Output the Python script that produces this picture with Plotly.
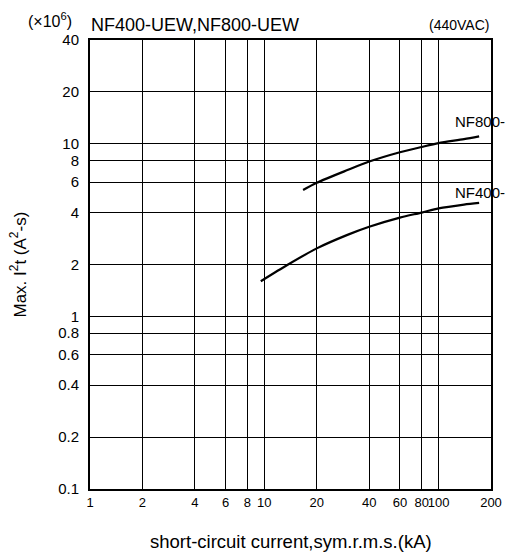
import plotly.graph_objects as go

# data
nf400_x = [9.55, 13.7, 20, 30, 40, 60, 80, 100, 140, 171]
nf400_y = [1.60, 2.0, 2.48, 2.97, 3.31, 3.74, 4.0, 4.23, 4.45, 4.55]
nf800_x = [16.7, 20, 30, 40, 60, 80, 100, 140, 171]
nf800_y = [5.4, 5.95, 7.05, 7.9, 8.95, 9.6, 10.1, 10.65, 11.05]

x_ticks = [1, 2, 4, 6, 8, 10, 20, 40, 60, 80, 100, 200]
x_tick_text = ["1", "2", "4", "6", "8", "10", "20", "40", "60", "80", "100", "200"]
y_ticks = [0.1, 0.2, 0.4, 0.6, 0.8, 1, 2, 4, 6, 8, 10, 20, 40]
y_tick_text = ["0.1", "0.2", "0.4", "0.6", "0.8", "1", "2", "4", "6", "8", "10", "20", "40"]

FONT = "Liberation Sans, Arial, sans-serif"

L, R, T, B = 90, 16, 40, 65
W, H = 507, 554
PW, PH = W - L - R, H - T - B


def px(xp):
    return (xp - L) / PW


def py(yp):
    return (H - B - yp) / PH


fig = go.Figure()
for xs, ys in ((nf800_x, nf800_y), (nf400_x, nf400_y)):
    fig.add_trace(go.Scatter(x=xs, y=ys, mode="lines",
                             line=dict(color="black", width=2.2, shape="spline", smoothing=0.8),
                             showlegend=False, hoverinfo="skip"))

fig.update_layout(
    width=W, height=H,
    margin=dict(l=L, r=R, t=T, b=B, autoexpand=False),
    paper_bgcolor="white", plot_bgcolor="white",
    font=dict(family=FONT, size=14, color="black"),
    xaxis=dict(type="log", range=[0, 2.30103], tickvals=x_ticks, ticktext=x_tick_text,
               showgrid=True, gridcolor="black", gridwidth=1,
               showline=True, linecolor="black", linewidth=2, mirror=True,
               ticks="", zeroline=False, tickangle=0, tickfont=dict(size=13),
               ticklabelstandoff=0),
    yaxis=dict(type="log", range=[-1, 1.60206], tickvals=y_ticks, ticktext=y_tick_text,
               showgrid=True, gridcolor="black", gridwidth=1,
               showline=True, linecolor="black", linewidth=2, mirror=True,
               ticks="", zeroline=False, tickfont=dict(size=15), ticklabelstandoff=6),
)

annots = [
    dict(x=px(89), y=py(25), xref="paper", yref="paper", xanchor="left", yanchor="middle",
         text="NF400-UEW,NF800-UEW", showarrow=False, font=dict(size=18)),
    dict(x=px(491), y=py(25), xref="paper", yref="paper", xanchor="right", yanchor="middle",
         text="(440VAC)", showarrow=False, font=dict(size=14)),
    dict(x=px(26), y=py(20), xref="paper", yref="paper", xanchor="left", yanchor="middle",
         text="(×10<sup>6</sup>)", showarrow=False, font=dict(size=16)),
    dict(x=px(507), y=py(121), xref="paper", yref="paper", xanchor="right", yanchor="middle",
         text="NF800-", showarrow=False, font=dict(size=15)),
    dict(x=px(507), y=py(192), xref="paper", yref="paper", xanchor="right", yanchor="middle",
         text="NF400-", showarrow=False, font=dict(size=15)),
    dict(x=0.5, y=py(541), xref="paper", yref="paper", xanchor="center", yanchor="middle",
         text="short-circuit current,sym.r.m.s.(kA)", showarrow=False, font=dict(size=18.5)),
    dict(x=px(18), y=0.5, xref="paper", yref="paper", xanchor="center", yanchor="middle",
         text="Max. I<sup>2</sup>t (A<sup>2</sup>-s)", showarrow=False, font=dict(size=17),
         textangle=-90),
]
fig.update_layout(annotations=annots)

fig.write_html("out.html")
